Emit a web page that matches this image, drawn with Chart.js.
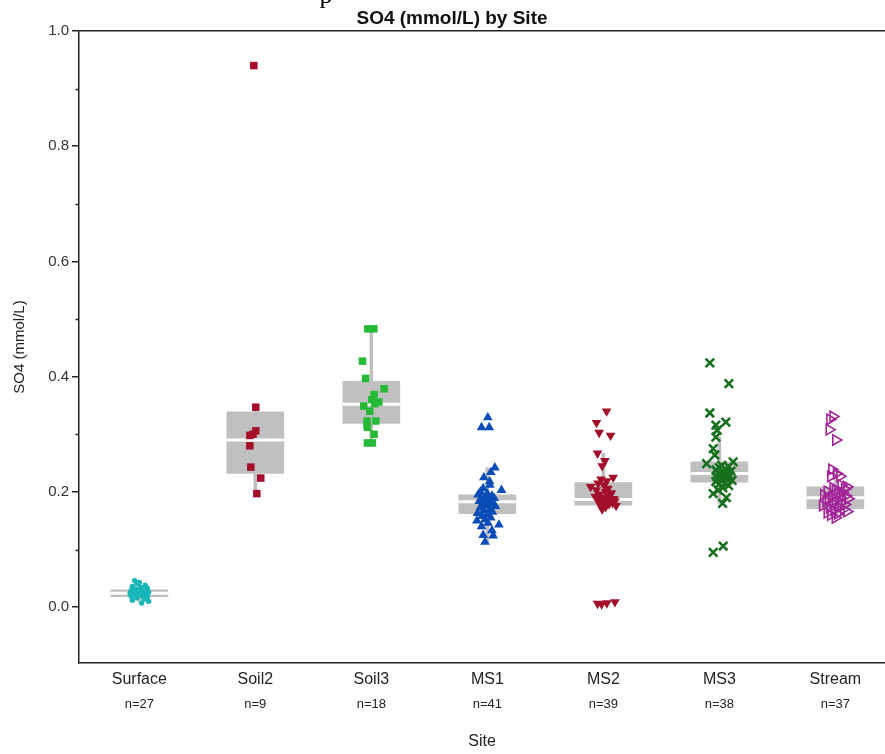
<!DOCTYPE html>
<html>
<head>
<meta charset="utf-8">
<script src="https://cdn.jsdelivr.net/npm/chart.js@4.4.1/dist/chart.umd.min.js"></script>
<style>
  html, body { margin: 0; padding: 0; background: #fff; overflow: hidden; width: 885px; height: 754px; }
  canvas { display: block; }
</style>
</head>
<body>
<canvas id="c" width="885" height="754" style="width:885px;height:754px"></canvas>
<script>
// Sites along the x axis and their sample counts
const sites = ['Surface', 'Soil2', 'Soil3', 'MS1', 'MS2', 'MS3', 'Stream'];
const counts = [27, 9, 18, 41, 39, 38, 37];

// Axis ticks (mmol/L)
const yTicks = [0.0, 0.2, 0.4, 0.6, 0.8, 1.0];
const yMinorTicks = [0.1, 0.3, 0.5, 0.7, 0.9];

// Box summaries per site
const q1 = [0.018, 0.232, 0.319, 0.162, 0.177, 0.217, 0.171];
const medians = [0.024, 0.290, 0.352, 0.183, 0.187, 0.232, 0.190];
const q3 = [0.030, 0.339, 0.392, 0.195, 0.216, 0.252, 0.209];
const whiskerLow = [0.009, 0.197, 0.285, 0.113, 0.170, 0.180, 0.155];
const whiskerHigh = [0.046, 0.347, 0.483, 0.242, 0.267, 0.295, 0.239];

// Individual samples (SO4, mmol/L) with horizontal jitter in category units
const surfaceSO4 = [0.046, 0.043, 0.041, 0.038, 0.036, 0.034, 0.033, 0.031, 0.030, 0.029, 0.028, 0.027, 0.026, 0.025,
  0.024, 0.024, 0.023, 0.022, 0.021, 0.020, 0.019, 0.018, 0.016, 0.014, 0.012, 0.010, 0.007];
const surfaceJitter = [-0.04, 0.0, -0.02, 0.05, -0.06, 0.01, 0.07, -0.03, 0.03, -0.07, 0.05, -0.01, 0.08, -0.05,
  0.03, -0.08, 0.0, 0.06, -0.04, 0.02, -0.07, 0.07, -0.02, 0.04, -0.06, 0.08, 0.02];

const soil2SO4 = [0.940, 0.347, 0.306, 0.300, 0.298, 0.280, 0.243, 0.224, 0.197];
const soil2Jitter = [-0.013, 0.004, 0.004, -0.02, -0.047, -0.047, -0.039, 0.047, 0.013];

const soil3SO4 = [0.483, 0.483, 0.427, 0.397, 0.379, 0.369, 0.360, 0.356, 0.353, 0.349, 0.340, 0.323, 0.323,
  0.316, 0.312, 0.300, 0.285, 0.285];
const soil3Jitter = [-0.03, 0.022, -0.076, -0.05, 0.11, 0.024, 0.004, 0.065, 0.03, -0.065, -0.013, -0.036, 0.039,
  -0.036, -0.033, 0.024, -0.034, 0.009];

const ms1SO4 = [0.329, 0.312, 0.312, 0.242, 0.234, 0.225, 0.218, 0.212, 0.206, 0.203, 0.200, 0.197, 0.195, 0.193,
  0.191, 0.189, 0.187, 0.185, 0.184, 0.183, 0.181, 0.179, 0.177, 0.175, 0.173, 0.170, 0.168, 0.165, 0.163, 0.161,
  0.158, 0.155, 0.152, 0.150, 0.146, 0.143, 0.140, 0.133, 0.125, 0.124, 0.113];
const ms1Jitter = [0.004, -0.05, 0.016, 0.065, 0.03, -0.03, 0.02, 0.022, -0.036, 0.122, -0.06, 0.0, -0.08, 0.04,
  -0.02, 0.06, -0.05, 0.01, -0.07, 0.03, -0.04, 0.05, -0.01, 0.07, -0.06, 0.02, -0.03, 0.045, -0.085, 0.0,
  -0.045, 0.03, -0.02, -0.09, 0.005, 0.1, -0.05, 0.04, -0.036, 0.05, -0.02];

const ms2SO4 = [0.340, 0.320, 0.303, 0.298, 0.267, 0.254, 0.245, 0.225, 0.222, 0.219, 0.215, 0.212, 0.209, 0.206,
  0.203, 0.200, 0.198, 0.196, 0.194, 0.192, 0.190, 0.188, 0.187, 0.186, 0.185, 0.184, 0.183, 0.182, 0.181, 0.180,
  0.179, 0.178, 0.176, 0.174, 0.170, 0.009, 0.007, 0.006, 0.005];
const ms2Jitter = [0.028, -0.059, -0.036, 0.062, -0.05, 0.013, -0.01, 0.085, -0.02, 0.03, -0.045, 0.005, -0.11, 0.04,
  -0.06, 0.02, 0.07, -0.03, 0.05, -0.07, 0.01, 0.09, -0.01, 0.06, -0.04, 0.1, 0.03, -0.02, 0.08, 0.0,
  0.05, -0.03, 0.11, 0.02, -0.01, 0.1, 0.03, -0.05, -0.015];

const ms3SO4 = [0.424, 0.388, 0.337, 0.321, 0.316, 0.307, 0.295, 0.275, 0.264, 0.252, 0.249, 0.246, 0.244, 0.242,
  0.240, 0.238, 0.236, 0.234, 0.233, 0.232, 0.231, 0.230, 0.228, 0.226, 0.224, 0.222, 0.220, 0.218, 0.216, 0.214,
  0.211, 0.207, 0.203, 0.197, 0.190, 0.180, 0.106, 0.095];
const ms3Jitter = [-0.082, 0.082, -0.082, 0.056, -0.03, -0.019, -0.03, -0.053, -0.039, 0.119, -0.11, 0.02, 0.08, 0.0,
  0.05, -0.03, 0.1, 0.03, -0.01, 0.07, 0.04, 0.0, 0.09, -0.02, 0.06, 0.02, 0.11, -0.03, 0.05, 0.0,
  0.08, 0.03, -0.01, -0.053, 0.06, 0.028, 0.033, -0.053];

const streamSO4 = [0.331, 0.326, 0.308, 0.290, 0.239, 0.232, 0.227, 0.227, 0.212, 0.209, 0.207, 0.205, 0.203, 0.201,
  0.199, 0.197, 0.195, 0.193, 0.191, 0.190, 0.189, 0.188, 0.186, 0.184, 0.182, 0.180, 0.178, 0.176, 0.174, 0.172,
  0.170, 0.168, 0.166, 0.164, 0.162, 0.160, 0.155];
const streamJitter = [-0.02, -0.047, -0.053, 0.004, -0.03, 0.01, -0.04, 0.04, 0.05, 0.1, -0.02, 0.08, 0.0, -0.07,
  0.06, 0.02, -0.1, 0.09, -0.03, 0.04, -0.06, 0.11, 0.0, -0.08, 0.05, -0.02, 0.08, -0.11, 0.03, -0.05,
  0.07, -0.01, 0.1, -0.07, 0.02, -0.04, 0.0];

const chartTitle = 'SO4 (mmol/L) by Site';

const BOX_GREY = '#c0c0c0';
const TEXT = '#222';
const FONT = "'Liberation Sans', Arial, sans-serif";

function strip(siteIndex, values, jitter) {
  return values.map((v, k) => ({ x: siteIndex + jitter[k], y: v }));
}

function pointSet(siteIndex, values, jitter, style) {
  return Object.assign({
    type: 'scatter',
    data: strip(siteIndex, values, jitter),
    order: 0,
    borderWidth: 0,
    hoverRadius: style.radius,
  }, style);
}

const datasets = [
  pointSet(0, surfaceSO4, surfaceJitter, { pointStyle: 'circle', radius: 2.7, backgroundColor: '#19b6b8', borderColor: '#19b6b8' }),
  pointSet(1, soil2SO4, soil2Jitter, { pointStyle: 'rect', radius: 5.3, backgroundColor: '#a50d2b', borderColor: '#a50d2b' }),
  pointSet(2, soil3SO4, soil3Jitter, { pointStyle: 'rect', radius: 5.3, backgroundColor: '#25ba35', borderColor: '#25ba35' }),
  pointSet(3, ms1SO4, ms1Jitter, { pointStyle: 'triangle', radius: 5.6, backgroundColor: '#0a4cb8', borderColor: '#0a4cb8' }),
  pointSet(4, ms2SO4, ms2Jitter, { pointStyle: 'triangle', rotation: 180, radius: 5.6, backgroundColor: '#a30f2b', borderColor: '#a30f2b' }),
  pointSet(5, ms3SO4, ms3Jitter, { pointStyle: 'crossRot', radius: 6, borderWidth: 2.6, backgroundColor: '#17701e', borderColor: '#17701e' }),
  pointSet(6, streamSO4, streamJitter, { pointStyle: 'triangle', rotation: 90, radius: 6, borderWidth: 1.6, backgroundColor: 'rgba(0,0,0,0)', borderColor: '#a4249a' }),
  {
    // median marks drawn as white horizontal strokes across each box
    type: 'scatter',
    data: medians.map((m, i) => ({ x: i, y: m })),
    pointStyle: 'line',
    radius: 28.5,
    hoverRadius: 28.5,
    borderColor: '#ffffff',
    borderWidth: 3,
    order: 1,
  },
  {
    type: 'bar',
    data: q1.map((lo, i) => ({ x: i, y: [lo, q3[i]] })),
    backgroundColor: BOX_GREY,
    borderWidth: 0,
    barThickness: 57,
    grouped: false,
    order: 2,
  },
  {
    type: 'bar',
    data: whiskerLow.map((lo, i) => ({ x: i, y: [lo, whiskerHigh[i]] })),
    backgroundColor: BOX_GREY,
    borderWidth: 0,
    barThickness: 3,
    grouped: false,
    order: 3,
  },
];

// short unlabeled ticks between the labeled ones on the y axis
const minorTickPlugin = {
  id: 'minorTicks',
  afterDraw(chart) {
    const { ctx, chartArea, scales } = chart;
    ctx.save();
    ctx.strokeStyle = TEXT;
    ctx.lineWidth = 1.5;
    yMinorTicks.forEach(v => {
      const py = Math.round(scales.y.getPixelForValue(v)) + 0.5;
      ctx.beginPath();
      ctx.moveTo(chartArea.left - 3.5, py);
      ctx.lineTo(chartArea.left, py);
      ctx.stroke();
    });
    ctx.restore();
  }
};

// heading, sample counts under each site label
const textPlugin = {
  id: 'chartText',
  afterDraw(chart) {
    const { ctx, chartArea, scales } = chart;
    ctx.save();
    ctx.fillStyle = '#111';
    ctx.font = 'bold 19px ' + FONT;
    ctx.textAlign = 'center';
    ctx.textBaseline = 'middle';
    ctx.fillText(chartTitle, 452, 19);

    ctx.fillStyle = TEXT;
    ctx.font = '13px ' + FONT;
    counts.forEach((n, i) => {
      ctx.fillText('n=' + n, scales.x.getPixelForValue(i), chartArea.bottom + 41);
    });

    // descender of a heading that runs off the top edge
    ctx.font = '26px "Liberation Serif", serif';
    ctx.textBaseline = 'alphabetic';
    ctx.fillStyle = '#000';
    ctx.fillText('p', 326, 3);
    ctx.restore();
  }
};

new Chart(document.getElementById('c'), {
  type: 'scatter',
  data: { datasets },
  options: {
    responsive: false,
    animation: false,
    devicePixelRatio: 1,
    layout: { autoPadding: false, padding: { left: 0, right: 0, top: 31, bottom: 0 } },
    plugins: {
      legend: { display: false },
      tooltip: { enabled: false },
      title: { display: false },
    },
    scales: {
      x: {
        type: 'linear',
        min: -0.52,
        max: 6.428,
        offset: false,
        afterBuildTicks: s => { s.ticks = sites.map((_, i) => ({ value: i })); },
        afterFit: s => { s.height = 91; s.paddingLeft = 0; s.paddingRight = 0; },
        ticks: {
          autoSkip: false,
          maxRotation: 0,
          padding: 7,
          color: TEXT,
          font: { family: FONT, size: 16 },
          callback: v => sites[v],
        },
        grid: { display: true, drawOnChartArea: false, drawTicks: false },
        border: { display: true, color: TEXT, width: 1.5 },
        title: {
          display: true,
          text: 'Site',
          color: TEXT,
          font: { family: FONT, size: 16, lineHeight: 1.2 },
          padding: { top: 0, bottom: 3 },
        },
      },
      y: {
        type: 'linear',
        min: -0.097,
        max: 1.0,
        afterBuildTicks: s => { s.ticks = yTicks.map(v => ({ value: v })); },
        afterFit: s => { s.width = 79; },
        ticks: {
          padding: 3,
          color: '#333',
          font: { family: FONT, size: 15 },
          callback: v => v.toFixed(1),
        },
        grid: {
          drawOnChartArea: true,
          drawTicks: true,
          tickLength: 7,
          lineWidth: 1.5,
          tickColor: TEXT,
          color: c => (c.tick && c.tick.value === 1.0 ? TEXT : 'rgba(0,0,0,0)'),
        },
        border: { display: true, color: TEXT, width: 1.5 },
        title: {
          display: true,
          text: 'SO4 (mmol/L)',
          color: TEXT,
          font: { family: FONT, size: 15, lineHeight: 1.2 },
          padding: { top: 11, bottom: 0 },
        },
      },
    },
  },
  plugins: [minorTickPlugin, textPlugin],
});
</script>
</body>
</html>
